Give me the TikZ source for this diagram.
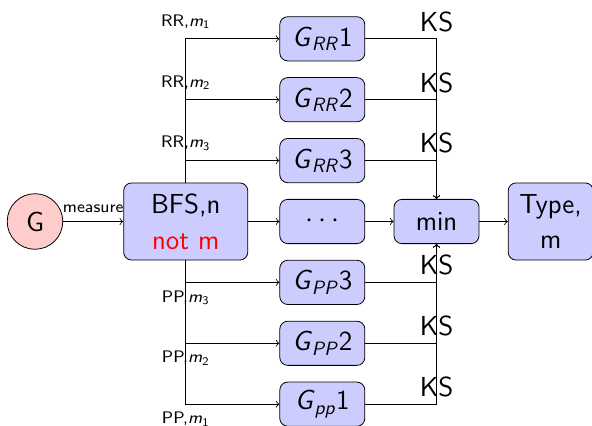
\documentclass[tikz,border=0pt]{standalone}
\renewcommand{\familydefault}{\sfdefault}
\usetikzlibrary{positioning}

% slanted letter with a slanted subscript, and m with an index
\newcommand{\gsub}[1]{\textsl{G}\textsubscript{\textsl{#1}}}
\newcommand{\msub}[1]{\textsl{m}\textsubscript{#1}}

\begin{document}
\begin{tikzpicture}[
        node distance=0.28cm and 0.5cm,
        big/.style={font=\fontsize{13.8}{18}\selectfont},
        box/.style={rectangle, draw, rounded corners, fill=blue!20, minimum width=1.5cm, minimum height=0.78cm, align=center, big},
        lbl/.style={font=\fontsize{8.4}{10}\selectfont},
        ks/.style={above, big},
        arrow/.style={->}
    ]
        \useasboundingbox (-0.617,-3.607) rectangle (9.825,3.907);

        % Input and search
        \node[circle, draw, fill=red!20, minimum size=0.98cm, inner sep=0pt, big] (g) {G};
        \node[box, right=1.06cm of g, minimum width=2.19cm, minimum height=1.36cm] (bfs) {BFS,n\\\textcolor{red}{not m}};

        % Middle column
        \node[box, right=0.55cm of bfs] (dots) {$\cdots$};
        \node[box, above=of dots] (rr3) {\gsub{RR}3};
        \node[box, above=of rr3] (rr2) {\gsub{RR}2};
        \node[box, above=of rr2] (rr1) {\gsub{RR}1};
        \node[box, below=of dots] (pp3) {\gsub{PP}3};
        \node[box, below=of pp3] (pp2) {\gsub{PP}2};
        \node[box, below=of pp2] (pp1) {\gsub{pp}1};

        % Output
        \node[box, right=of dots] (min) {min};
        \node[box, right=of min, minimum height=1.36cm] (type) {Type,\\m};

        % Arrows in the middle row
        \draw[arrow] (g) -- node[lbl, above=1pt] {measure} (bfs);
        \draw[arrow] (bfs) -- (dots);
        \draw[arrow] (dots) -- (min);
        \draw[arrow] (min) -- (type);

        % Branches out of the search
        \draw[arrow] (bfs) |- node[lbl, above=1.5pt] {RR,\msub{1}} (rr1);
        \draw[arrow] (bfs) |- node[lbl, above=1.5pt] {RR,\msub{2}} (rr2);
        \draw[arrow] (bfs) |- node[lbl, above=1.5pt] {RR,\msub{3}} (rr3);
        \draw[arrow] (bfs) |- node[lbl, below=0.5pt] {PP,\msub{3}} (pp3);
        \draw[arrow] (bfs) |- node[lbl, below=0.5pt] {PP,\msub{2}} (pp2);
        \draw[arrow] (bfs) |- node[lbl, below=0.5pt] {PP,\msub{1}} (pp1);

        % Branches into min
        \draw[arrow] (rr1) -| node[ks] {KS} (min);
        \draw[arrow] (rr2) -| node[ks] {KS} (min);
        \draw[arrow] (rr3) -| node[ks] {KS} (min);
        \draw[arrow] (pp3) -| node[ks] {KS} (min);
        \draw[arrow] (pp2) -| node[ks] {KS} (min);
        \draw[arrow] (pp1) -| node[ks] {KS} (min);
    \end{tikzpicture}
\end{document}
